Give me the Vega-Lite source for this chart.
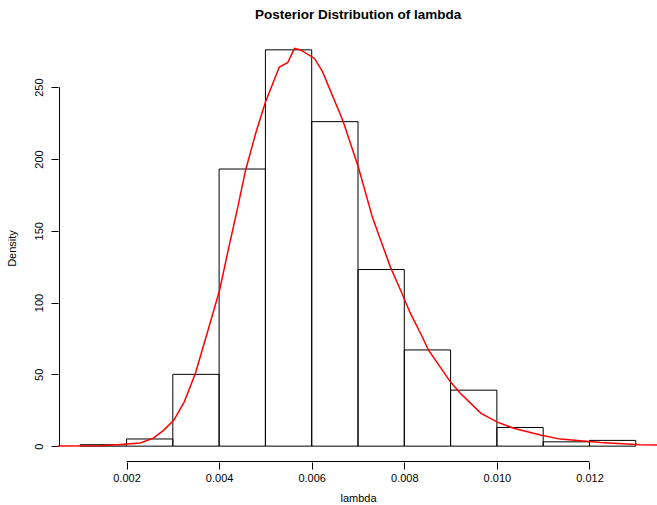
{
  "$schema": "https://vega.github.io/schema/vega-lite/v6.json",
  "width": 600,
  "height": 428,
  "autosize": {"type": "none"},
  "padding": {"left": 58, "top": 34, "right": 0, "bottom": 43},
  "background": "white",
  "config": {
    "view": {"stroke": null},
    "font": "Liberation Sans",
    "axis": {"grid": false, "domain": false, "tickColor": "black", "labelColor": "black", "titleColor": "black", "labelFont": "Liberation Sans", "titleFont": "Liberation Sans", "labelFontSize": 11, "titleFontSize": 11, "titleFontWeight": "normal", "tickSize": 7}
  },
  "title": {"text": "Posterior Distribution of lambda", "font": "Liberation Sans", "fontSize": 13.5, "fontWeight": "bold", "color": "black", "anchor": "middle", "offset": 13},
  "datasets": {
    "bins": [
      {"lo": 0.001, "hi": 0.002, "density": 1, "base": 0},
      {"lo": 0.002, "hi": 0.003, "density": 5, "base": 0},
      {"lo": 0.003, "hi": 0.004, "density": 50, "base": 0},
      {"lo": 0.004, "hi": 0.005, "density": 193, "base": 0},
      {"lo": 0.005, "hi": 0.006, "density": 276, "base": 0},
      {"lo": 0.006, "hi": 0.007, "density": 226, "base": 0},
      {"lo": 0.007, "hi": 0.008, "density": 123, "base": 0},
      {"lo": 0.008, "hi": 0.009, "density": 67, "base": 0},
      {"lo": 0.009, "hi": 0.010, "density": 39, "base": 0},
      {"lo": 0.010, "hi": 0.011, "density": 13, "base": 0},
      {"lo": 0.011, "hi": 0.012, "density": 3, "base": 0},
      {"lo": 0.012, "hi": 0.013, "density": 4, "base": 0}
    ],
    "dens": [
      {"x": 0.00040, "y": 0.1},
      {"x": 0.00144, "y": 0.3},
      {"x": 0.00187, "y": 1.1},
      {"x": 0.00230, "y": 2.2},
      {"x": 0.00258, "y": 5.6},
      {"x": 0.00280, "y": 11},
      {"x": 0.00302, "y": 18},
      {"x": 0.00325, "y": 31},
      {"x": 0.00349, "y": 51},
      {"x": 0.00374, "y": 78.5},
      {"x": 0.00401, "y": 108.6},
      {"x": 0.00420, "y": 137},
      {"x": 0.00440, "y": 166},
      {"x": 0.00457, "y": 192},
      {"x": 0.00480, "y": 219},
      {"x": 0.00500, "y": 239.5},
      {"x": 0.00530, "y": 264},
      {"x": 0.00548, "y": 267},
      {"x": 0.00563, "y": 277},
      {"x": 0.00576, "y": 276},
      {"x": 0.00606, "y": 270},
      {"x": 0.00623, "y": 261},
      {"x": 0.00667, "y": 227},
      {"x": 0.00701, "y": 194},
      {"x": 0.00731, "y": 159.5},
      {"x": 0.00770, "y": 124.7},
      {"x": 0.00792, "y": 108.6},
      {"x": 0.00813, "y": 92.6},
      {"x": 0.00839, "y": 76},
      {"x": 0.00852, "y": 67},
      {"x": 0.00900, "y": 44.6},
      {"x": 0.00921, "y": 36.9},
      {"x": 0.00965, "y": 23},
      {"x": 0.01001, "y": 16.7},
      {"x": 0.01036, "y": 12.5},
      {"x": 0.01094, "y": 7.7},
      {"x": 0.01137, "y": 4.9},
      {"x": 0.01224, "y": 2.5},
      {"x": 0.01310, "y": 1},
      {"x": 0.01400, "y": 0.5}
    ],
    "axlines": [
      {"x1": 0.002, "x2": 0.012, "y1": -10.7, "y2": -10.7},
      {"x1": 0.000553, "x2": 0.000553, "y1": 0, "y2": 250}
    ]
  },
  "layer": [
    {
      "data": {"name": "bins"},
      "mark": {"type": "rect", "fill": "white", "fillOpacity": 0, "stroke": "black", "strokeWidth": 1},
      "encoding": {
        "x": {"field": "lo", "type": "quantitative", "scale": {"domain": [0.00052, 0.01348], "nice": false, "zero": false},
              "axis": {"title": "lambda", "values": [0.002, 0.004, 0.006, 0.008, 0.010, 0.012], "format": ".3f", "labelPadding": 3, "titlePadding": 9, "labelFlush": false}},
        "x2": {"field": "hi"},
        "y": {"field": "density", "type": "quantitative", "scale": {"domain": [-11.04, 287.04], "nice": false, "zero": false},
              "axis": {"title": "Density", "values": [0, 50, 100, 150, 200, 250], "labelAngle": 270, "labelAlign": "center", "labelBaseline": "bottom", "labelPadding": 7, "titlePadding": 16, "labelFlush": false}},
        "y2": {"field": "base"}
      }
    },
    {
      "data": {"name": "dens"},
      "mark": {"type": "line", "color": "#FF0000", "strokeWidth": 1.5, "clip": true},
      "encoding": {
        "x": {"field": "x", "type": "quantitative"},
        "y": {"field": "y", "type": "quantitative"}
      }
    },
    {
      "data": {"name": "axlines"},
      "mark": {"type": "rule", "color": "black", "strokeWidth": 1},
      "encoding": {
        "x": {"field": "x1", "type": "quantitative"},
        "x2": {"field": "x2"},
        "y": {"field": "y1", "type": "quantitative"},
        "y2": {"field": "y2"}
      }
    }
  ]
}
